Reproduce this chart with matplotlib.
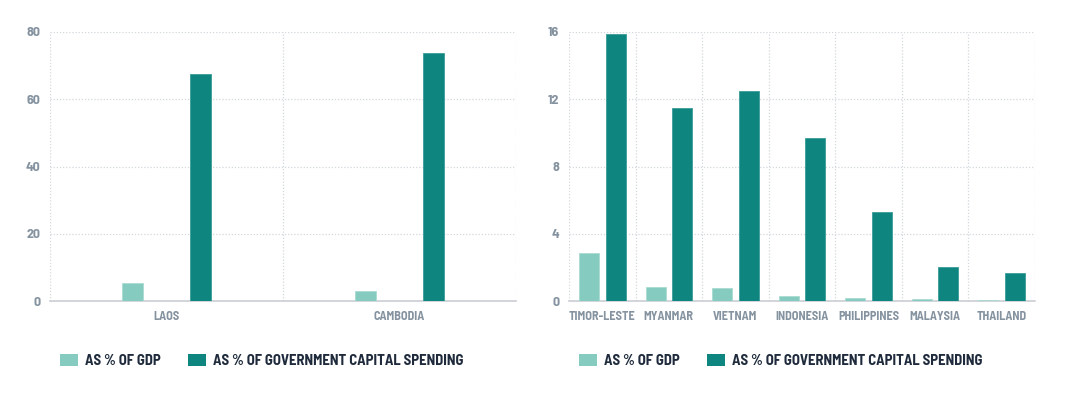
import numpy as np
import matplotlib.pyplot as plt
from matplotlib.patches import Patch

# datos
left_countries = ['LAOS', 'CAMBODIA']
left_gdp = [5.3, 3.1]
left_capital = [67.5, 73.7]

right_countries = ['TIMOR-LESTE', 'MYANMAR', 'VIETNAM', 'INDONESIA',
                   'PHILIPPINES', 'MALAYSIA', 'THAILAND']
right_gdp = [2.87, 0.81, 0.77, 0.32, 0.2, 0.12, 0.06]
right_capital = [15.88, 11.46, 12.51, 9.70, 5.29, 2.04, 1.67]

left_ticks = [0, 20, 40, 60, 80]
right_ticks = [0, 4, 8, 12, 16]

light = '#86cbbf'
dark = '#0e857f'
tick_col = '#8593a0'
legend_col = '#1f2b3c'
grid_col = '#d3d8dc'

fonts = ['Barlow Semi Condensed', 'DejaVu Sans']
plt.rcParams['font.family'] = fonts

W, H = 1080, 394
fig = plt.figure(figsize=(W / 100, H / 100), dpi=100)


def panel(rect, names, gdp, cap, ticks, offset, width):
    ax = fig.add_axes([rect[0] / W, (H - rect[1] - rect[3]) / H, rect[2] / W, rect[3] / H])
    x = np.arange(len(names))
    ax.bar(x - offset, gdp, width, color=light, edgecolor='#a9dbd2', linewidth=0.6, zorder=3)
    ax.bar(x + offset, cap, width, color=dark, edgecolor='#3a9d98', linewidth=0.6, zorder=3)
    ax.set_xlim(-0.5, len(names) - 0.5)
    ax.set_ylim(0, ticks[-1])
    ax.set_yticks(ticks)
    ax.set_xticks(x)
    ax.set_xticklabels(names)
    for t in ticks[1:]:
        ax.axhline(t, color=grid_col, linestyle=(0, (1, 1.5)), linewidth=0.9, zorder=1)
    for b in np.arange(-0.5, len(names), 1.0):
        ax.axvline(b, color=grid_col, linestyle=(0, (1, 1.5)), linewidth=0.9, zorder=1)
    for s in ['top', 'right', 'left']:
        ax.spines[s].set_visible(False)
    ax.spines['bottom'].set_color('#c9ced3')
    ax.spines['bottom'].set_linewidth(1.2)
    ax.tick_params(length=0, labelcolor=tick_col)
    ax.tick_params(axis='x', pad=7, labelsize=8.8)
    ax.tick_params(axis='y', pad=7, labelsize=10)
    for lab in ax.get_xticklabels() + ax.get_yticklabels():
        lab.set_fontweight('bold')
    return ax


ax1 = panel((50, 32, 466, 269), left_countries, left_gdp, left_capital, left_ticks, 0.146, 0.086)
ax2 = panel((569, 32, 466, 269), right_countries, right_gdp, right_capital, right_ticks, 0.2, 0.3)

handles = [Patch(facecolor=light, edgecolor='none', label='AS % OF GDP'),
           Patch(facecolor=dark, edgecolor='none', label='AS % OF GOVERNMENT CAPITAL SPENDING')]
for xpos in [60 / W, 579 / W]:
    fig.legend(handles=handles, loc='center left', bbox_to_anchor=(xpos, 1 - 361 / H),
               ncol=2, frameon=False, handlelength=1.22, handleheight=0.85,
               handletextpad=0.48, columnspacing=1.84,
               prop={'family': fonts, 'weight': 'bold', 'size': 10.6},
               labelcolor=legend_col, borderaxespad=0, borderpad=0)

fig.savefig('out.png', dpi=100, facecolor='white')
